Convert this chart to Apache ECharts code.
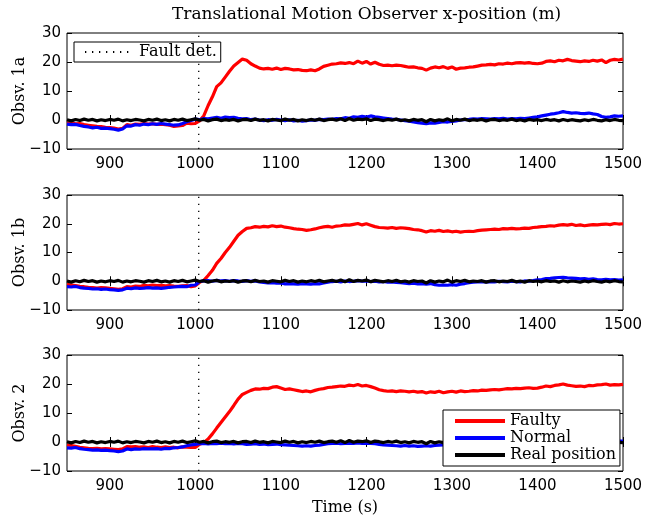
<!DOCTYPE html>
<html>
<head>
<meta charset="utf-8">
<script src="https://cdn.jsdelivr.net/npm/echarts@6/dist/echarts.min.js"></script>
<style>
  html, body { margin: 0; padding: 0; background: #fff; }
  #chart { width: 657px; height: 521px; }
</style>
</head>
<body>
<div id="chart"></div>
<script>
// Sampling grid of the logged observer estimates (seconds)
const SAMPLE_START = 850;
const SAMPLE_STEP = 5;

// Time at which the fault was detected (s)
const faultDetTime = 1004;

// Tick positions
const xTicks = [900, 1000, 1100, 1200, 1300, 1400, 1500];
const yTicks = [-10, 0, 10, 20, 30];

// Real x-position (m), shared by all observers
const realPosition = [
  0.1, -0.3, 0.2, -0.2, 0.3, -0.1, 0.2, -0.3, 0.1, -0.2,
  0.2, -0.1, 0.3, -0.3, 0.1, -0.2, 0.2, 0.0, -0.3, 0.2,
  -0.1, 0.3, -0.2, 0.1, -0.3, 0.2, -0.1, 0.3, -0.2, 0.1,
  0.4, -0.1, 0.2, -0.3, 0.1, 0.3, -0.2, 0.1, -0.1, 0.2,
  -0.3, 0.1, 0.2, -0.2, 0.3, -0.1, 0.1, -0.3, 0.2, 0.0,
  -0.2, 0.3, -0.1, 0.2, -0.3, 0.1, -0.2, 0.2, -0.1, 0.3,
  -0.2, 0.1, 0.3, -0.1, 0.4, -0.2, 0.5, -0.1, 0.3, 0.1,
  0.4, -0.2, 0.3, 0.1, -0.2, 0.2, -0.1, 0.3, -0.2, 0.1,
  -0.3, 0.2, -0.1, 0.1, -0.6, 0.2, -0.3, 0.1, -0.2, 0.4,
  -0.3, 0.2, -0.1, 0.3, -0.2, 0.1, -0.1, 0.2, -0.3, 0.1,
  0.2, -0.2, 0.1, -0.1, 0.3, -0.2, 0.1, -0.3, 0.2, -0.1,
  0.1, -0.2, 0.2, -0.1, 0.1, -0.3, 0.2, -0.2, 0.1, -0.1,
  -0.3, 0.1, -0.2, 0.2, -0.1, -0.3, 0.1, -0.2, 0.2, -0.1,
  -0.2
];

// Observer 1a
const faulty1a = [
  -1.1, -1.0, -1.3, -1.2, -1.6, -1.8, -2.0, -2.2, -2.3, -2.5,
  -2.6, -2.8, -3.1, -2.9, -1.6, -1.8, -1.4, -1.5, -1.2, -1.4,
  -1.3, -1.5, -1.4, -1.6, -1.8, -2.2, -2.0, -1.9, -1.1, -1.3,
  -1.2, -0.3, 1.5, 5.0, 8.0, 11.5, 12.8, 14.8, 16.8, 18.6,
  19.8, 21.0, 20.6, 19.4, 18.6, 17.9, 17.6, 17.8, 17.5, 17.9,
  17.4, 17.8, 17.6, 17.3, 17.4, 17.1, 17.0, 17.3, 17.0, 17.6,
  18.5, 18.9, 19.3, 19.4, 19.7, 19.5, 19.8, 19.4, 20.3, 19.6,
  20.2, 19.3, 19.9, 19.2, 18.8, 18.9, 18.7, 18.9, 18.8, 18.5,
  18.2, 18.3, 18.0, 17.8, 17.2, 17.9, 18.3, 18.0, 18.4, 17.8,
  18.3, 17.5, 17.9, 18.0, 18.2, 18.3, 18.6, 18.9, 19.0, 19.2,
  19.0, 19.4, 19.3, 19.6, 19.4, 19.7, 19.8, 19.6, 19.8, 19.5,
  19.4, 19.6, 20.2, 20.4, 20.1, 20.6, 20.4, 20.9, 20.5, 20.3,
  20.1, 20.4, 20.2, 20.6, 20.3, 20.7, 19.8, 20.6, 20.9, 20.7,
  21.0
];
const normal1a = [
  -1.4, -1.6, -1.5, -1.9, -2.2, -2.4, -2.7, -2.5, -2.9, -2.8,
  -3.0, -3.2, -3.5, -3.1, -2.0, -2.1, -1.6, -1.8, -1.4, -1.6,
  -1.3, -1.5, -1.2, -1.4, -1.6, -1.8, -1.7, -1.2, -0.6, -0.2,
  0.3, 0.1, 0.5, 0.4, 0.7, 0.9, 0.6, 1.0, 0.8, 0.9,
  0.6, 0.4, 0.5, 0.1, 0.3, 0.0, -0.2, 0.1, -0.1, 0.2,
  0.0, -0.2, 0.1, -0.3, -0.1, -0.4, -0.2, 0.0, -0.1, 0.2,
  0.1, 0.3, 0.2, 0.5, 0.4, 0.8, 0.6, 1.1, 0.9, 1.3,
  1.0, 1.4, 1.1, 0.9, 0.7, 0.5, 0.3, 0.2, 0.0, -0.2,
  -0.4, -0.7, -0.9, -1.1, -1.3, -1.0, -1.1, -0.8, -0.6, -0.7,
  -0.5, -0.3, 0.0, 0.1, 0.2, 0.4, 0.3, 0.5, 0.4, 0.3,
  0.5, 0.4, 0.6, 0.3, 0.5, 0.4, 0.6, 0.5, 0.7, 0.9,
  1.1, 1.4, 1.7, 2.0, 2.2, 2.5, 2.9, 2.6, 2.4, 2.5,
  2.3, 2.2, 2.4, 2.1, 1.9, 1.2, 0.9, 1.1, 1.4, 1.3,
  1.4
];

// Observer 1b
const faulty1b = [
  -1.1, -1.3, -1.5, -1.8, -1.9, -2.1, -2.2, -2.4, -2.2, -2.3,
  -2.5, -2.6, -2.8, -2.6, -1.9, -2.0, -1.7, -1.8, -1.4, -1.6,
  -1.3, -1.5, -1.4, -1.6, -1.5, -1.7, -1.8, -1.6, -1.5, -1.9,
  -1.6, -0.4, 0.3, 2.0, 3.8, 6.2, 7.9, 10.0, 11.8, 13.9,
  16.0, 17.3, 18.4, 18.6, 19.0, 18.8, 19.1, 18.9, 19.3, 19.0,
  19.2, 18.8, 18.6, 18.3, 18.1, 18.0, 17.7, 17.9, 18.2, 18.6,
  18.9, 19.1, 18.8, 19.2, 19.3, 19.6, 19.5, 19.8, 20.1, 19.6,
  20.0, 19.5, 19.0, 18.7, 18.6, 18.5, 18.7, 18.4, 18.6, 18.5,
  18.3, 18.0, 17.9, 17.6, 17.1, 17.6, 17.4, 17.7, 17.3, 17.5,
  17.2, 17.4, 17.1, 17.3, 17.4, 17.3, 17.6, 17.8, 17.9, 18.0,
  18.1, 18.0, 18.3, 18.2, 18.4, 18.2, 18.3, 18.5, 18.4, 18.7,
  18.8, 19.0, 19.1, 19.3, 19.2, 19.5, 19.7, 19.5, 19.8, 19.4,
  19.6, 19.3, 19.5, 19.7, 19.6, 19.8, 19.9, 19.7, 20.1, 19.9,
  20.0
];
const normal1b = [
  -1.9, -2.0, -1.8, -2.2, -2.4, -2.5, -2.7, -2.6, -2.8, -2.7,
  -2.9, -3.0, -3.2, -3.0, -2.4, -2.6, -2.3, -2.5, -2.4, -2.2,
  -2.4, -2.3, -2.5, -2.3, -2.1, -2.0, -1.9, -1.8, -1.9, -1.4,
  -1.3, -0.1, 0.1, 0.2, 0.0, 0.3, 0.1, 0.2, 0.0, 0.2,
  0.1, -0.1, 0.2, 0.0, 0.1, -0.2, -0.4, -0.6, -0.5, -0.7,
  -0.6, -0.9, -0.8, -0.9, -1.0, -0.8, -0.9, -1.0, -0.8, -0.9,
  -0.6, -0.3, -0.1, 0.0, -0.2, 0.1, -0.1, 0.0, 0.2, 0.0,
  0.1, -0.1, 0.0, -0.2, -0.1, -0.3, -0.2, -0.4, -0.5, -0.7,
  -0.8, -0.7, -0.9, -0.8, -1.0, -0.8, -1.2, -1.4, -1.3, -1.4,
  -1.2, -1.4, -1.0, -0.8, -0.5, -0.3, -0.2, -0.1, -0.2, -0.1,
  -0.2, 0.0, -0.1, -0.2, 0.0, -0.1, -0.2, 0.1, 0.0, 0.2,
  0.5, 0.6, 0.9, 1.0, 1.2, 1.3, 1.4, 1.2, 1.1, 1.0,
  0.8, 0.9, 0.7, 0.8, 0.6, 0.5, 0.7, 0.5, 0.6, 0.4,
  0.5
];

// Observer 2
const faulty2 = [
  -1.0, -1.2, -1.5, -1.8, -2.0, -2.2, -2.3, -2.2, -2.4, -2.3,
  -2.4, -2.5, -2.6, -2.4, -1.6, -1.7, -1.6, -1.8, -1.7, -1.9,
  -1.6, -1.8, -1.9, -1.7, -1.9, -1.8, -2.0, -1.7, -1.8, -1.9,
  -1.9, -0.8, -0.2, 1.0, 2.8, 4.8, 6.7, 8.6, 10.5, 12.6,
  14.8, 16.4, 17.1, 17.8, 18.3, 18.2, 18.5, 18.4, 18.9, 19.1,
  18.6, 18.1, 18.3, 18.0, 17.7, 17.4, 17.6, 17.3, 17.8, 18.2,
  18.4, 18.8, 18.9, 19.1, 19.3, 19.2, 19.6, 19.4, 19.8, 19.3,
  19.5, 19.1, 18.6, 18.0, 17.7, 17.5, 17.6, 17.4, 17.6, 17.5,
  17.3, 17.5, 17.2, 17.4, 16.9, 17.3, 17.1, 17.5, 17.0, 17.3,
  17.5, 17.2, 17.6, 17.4, 17.5, 17.7, 17.6, 17.9, 17.8, 18.0,
  18.1, 18.0, 18.2, 18.4, 18.3, 18.5, 18.4, 18.6, 18.7, 18.5,
  18.6, 18.9, 19.3, 19.1, 19.5, 19.7, 20.0, 19.6, 19.4, 19.2,
  19.3, 19.1, 19.5, 19.4, 19.7, 19.8, 20.0, 19.6, 19.8, 19.7,
  19.9
];
const normal2 = [
  -2.0, -2.1, -1.9, -2.3, -2.5, -2.6, -2.8, -2.7, -2.9, -2.8,
  -3.0, -3.1, -3.3, -3.1, -2.4, -2.6, -2.4, -2.5, -2.3, -2.4,
  -2.4, -2.3, -2.5, -2.2, -2.3, -2.0, -1.9, -1.7, -1.3, -1.0,
  -0.8, -0.6, -0.5, -0.7, -0.5, -0.6, -0.4, -0.6, -0.5, -0.7,
  -0.5, -0.6, -0.8, -0.7, -0.6, -0.8, -0.7, -0.9, -0.8, -0.7,
  -0.9, -1.0, -1.1, -1.2, -1.3, -1.4, -1.3, -1.4, -1.2, -1.1,
  -0.8, -0.6, -0.5, -0.4, -0.6, -0.5, -0.4, -0.5, -0.3, -0.5,
  -0.4, -0.5, -0.6, -0.8, -1.0, -1.1, -1.2, -1.3, -1.4, -1.2,
  -1.4, -1.3, -1.5, -1.4, -1.3, -1.4, -1.2, -1.1, -1.0, -0.9,
  -0.8, -0.6, -0.5, -0.4, -0.3, -0.4, -0.2, -0.3, -0.1, 0.0,
  -0.1, 0.1, 0.0, 0.2, 0.1, 0.3, 0.4, 0.5, 0.6, 0.5,
  0.7, 0.8, 0.9, 1.1, 1.0, 1.2, 1.1, 0.9, 1.0, 0.8,
  0.7, 0.8, 0.6, 0.5, 0.6, 0.4, 0.5, 0.3, 0.4, 0.3,
  0.3
];

const panels = [
  { name: 'Obsv. 1a', faulty: faulty1a, normal: normal1a },
  { name: 'Obsv. 1b', faulty: faulty1b, normal: normal1b },
  { name: 'Obsv. 2',  faulty: faulty2,  normal: normal2  }
];

const pair = (vals) => vals.map((v, i) => [SAMPLE_START + SAMPLE_STEP * i, v]);

const SERIF = '"DejaVu Serif", "Liberation Serif", serif';
const SANS = '"DejaVu Sans", "Liberation Sans", sans-serif';

const gridBoxes = [
  { left: 67, right: 34, top: 33, height: 116 },
  { left: 67, right: 34, top: 195, height: 115 },
  { left: 67, right: 34, top: 355, height: 116 }
];

const grid = [], xAxis = [], yAxis = [], series = [];

gridBoxes.forEach((box, g) => {
  grid.push(Object.assign({
    show: true, borderColor: '#000', borderWidth: 1, backgroundColor: '#fff',
    outerBoundsMode: 'none'
  }, box));

  const tickBase = { show: true, inside: true, length: 5, lineStyle: { color: '#000', width: 1 } };
  // bottom x-axis with labels
  xAxis.push({
    type: 'value', gridIndex: g, min: 850, max: 1500, position: 'bottom',
    axisLine: { show: false }, splitLine: { show: false },
    axisTick: Object.assign({ customValues: xTicks }, tickBase),
    axisLabel: {
      customValues: xTicks, color: '#000', fontFamily: SANS, fontSize: 15, margin: 8,
      formatter: (v) => String(v)
    },
    name: g === 2 ? 'Time (s)' : '', nameLocation: 'middle', nameGap: 29,
    nameMoveOverlap: false,
    nameTextStyle: { fontFamily: SERIF, fontSize: 16, color: '#000' }
  });
  // top x-axis: ticks only
  xAxis.push({
    type: 'value', gridIndex: g, min: 850, max: 1500, position: 'top',
    axisLine: { show: false }, splitLine: { show: false },
    axisTick: Object.assign({ customValues: xTicks }, tickBase),
    axisLabel: { show: false }
  });
  // left y-axis with labels
  yAxis.push({
    type: 'value', gridIndex: g, min: -10, max: 30, position: 'left',
    axisLine: { show: false }, splitLine: { show: false },
    axisTick: Object.assign({ customValues: yTicks }, tickBase),
    axisLabel: {
      customValues: yTicks, color: '#000', fontFamily: SANS, fontSize: 15, margin: 6,
      formatter: (v) => String(v).replace('-', '\u2212')
    },
    name: panels[g].name, nameLocation: 'middle', nameGap: 39,
    nameMoveOverlap: false,
    nameTextStyle: { fontFamily: SERIF, fontSize: 16, color: '#000' }
  });
  // right y-axis: ticks only
  yAxis.push({
    type: 'value', gridIndex: g, min: -10, max: 30, position: 'right',
    axisLine: { show: false }, splitLine: { show: false },
    axisTick: Object.assign({ customValues: yTicks }, tickBase),
    axisLabel: { show: false }
  });

  const common = { type: 'line', xAxisIndex: 2 * g, yAxisIndex: 2 * g, symbol: 'none', showSymbol: false, silent: true };
  series.push(Object.assign({}, common, {
    name: 'Faulty', data: pair(panels[g].faulty), color: '#ff0000',
    lineStyle: { color: '#ff0000', width: 3.2 }
  }));
  series.push(Object.assign({}, common, {
    name: 'Normal', data: pair(panels[g].normal), color: '#0000ff',
    lineStyle: { color: '#0000ff', width: 3.2 }
  }));
  series.push(Object.assign({}, common, {
    name: 'Real position', data: pair(realPosition), color: '#000000',
    lineStyle: { color: '#000000', width: 3.2 }
  }));
  series.push(Object.assign({}, common, {
    name: 'Fault det.', data: [[faultDetTime, -10], [faultDetTime, 30]], color: '#000000',
    lineStyle: { color: '#000000', width: 1.3, type: [1.3, 5.7] }
  }));
});

const legendText = { fontFamily: SERIF, fontSize: 16, lineHeight: 15, color: '#000' };

const chart = echarts.init(document.getElementById('chart'), null, { renderer: 'canvas' });
chart.setOption({
  animation: false,
  backgroundColor: '#fff',
  title: {
    text: 'Translational Motion Observer x-position (m)',
    left: 172, top: 6, padding: 0,
    textStyle: { fontFamily: SERIF, fontSize: 17, fontWeight: 'normal', color: '#000' }
  },
  grid, xAxis, yAxis, series,
  legend: [
    {
      data: ['Fault det.'], left: 74, top: 42, orient: 'horizontal',
      padding: [2, 4, 2, 10], itemWidth: 49, itemHeight: 14,
      itemStyle: { opacity: 0 },
      backgroundColor: '#fff', borderColor: '#000', borderWidth: 1, borderRadius: 0,
      textStyle: legendText, selectedMode: false, z: 10
    },
    {
      data: ['Faulty', 'Normal', 'Real position'], left: 443, top: 410, orient: 'vertical',
      padding: [3, 4, 3, 10], itemWidth: 50, itemHeight: 14, itemGap: 1,
      itemStyle: { opacity: 0 }, lineStyle: { width: 4 },
      backgroundColor: '#fff', borderColor: '#000', borderWidth: 1, borderRadius: 0,
      textStyle: legendText, selectedMode: false, z: 10
    }
  ]
});
</script>
</body>
</html>
